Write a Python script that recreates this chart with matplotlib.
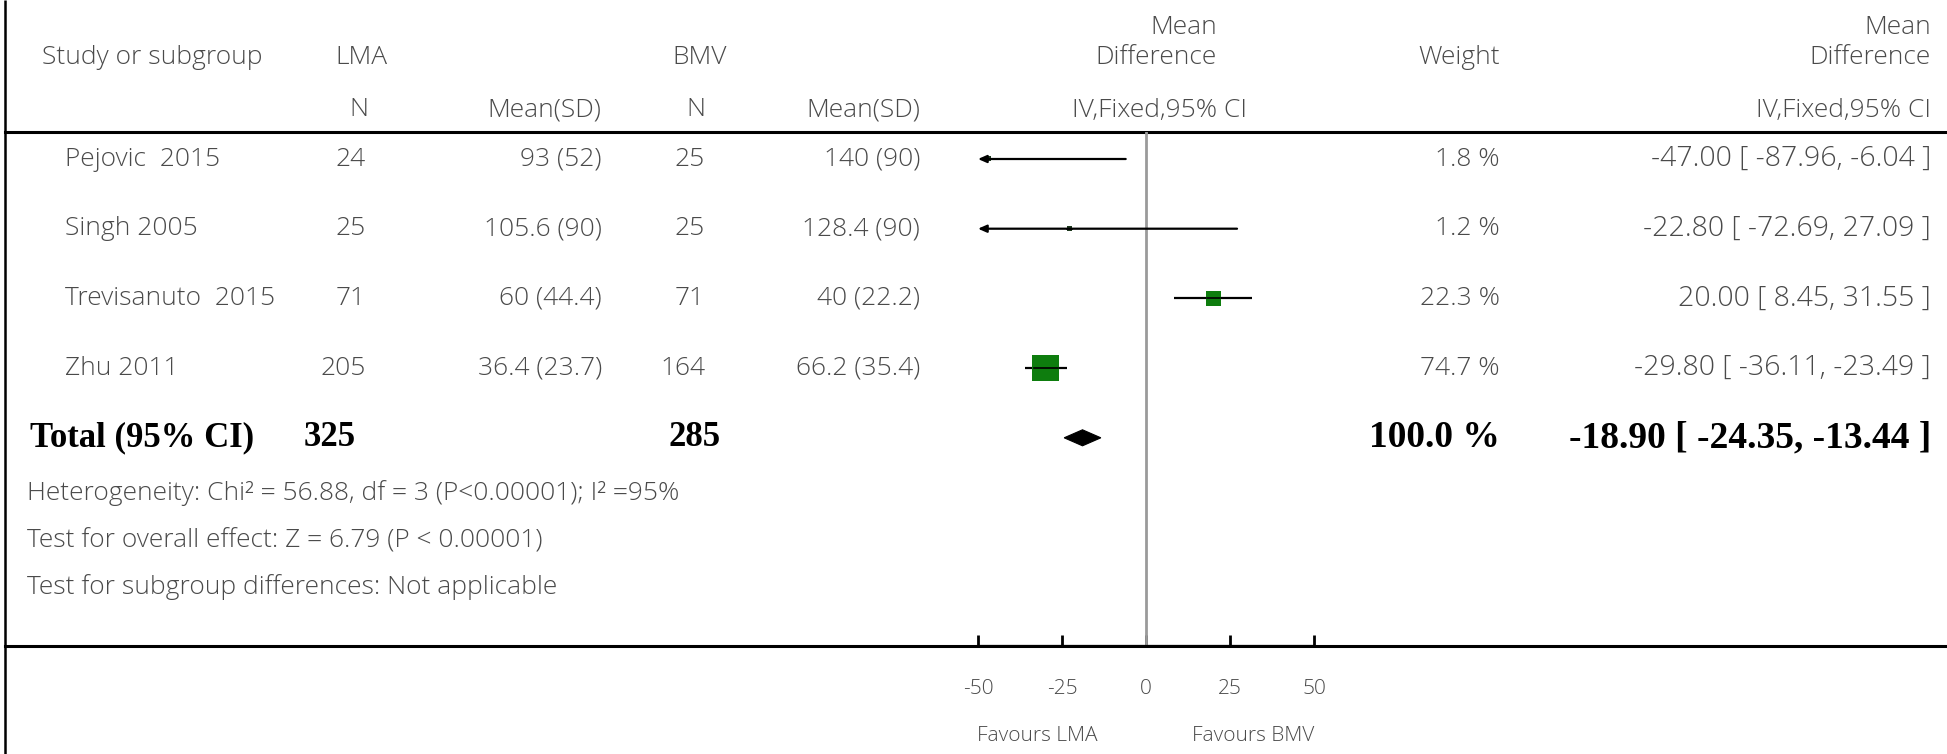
import matplotlib
matplotlib.use("Agg")
import matplotlib.pyplot as plt
from matplotlib.patches import Polygon, Rectangle
import numpy as np

# ---- study data -------------------------------------------------------
studies = ["Pejovic  2015", "Singh 2005", "Trevisanuto  2015", "Zhu 2011"]
lma_n = [24, 25, 71, 205]
lma_mean_sd = ["93 (52)", "105.6 (90)", "60 (44.4)", "36.4 (23.7)"]
bmv_n = [25, 25, 71, 164]
bmv_mean_sd = ["140 (90)", "128.4 (90)", "40 (22.2)", "66.2 (35.4)"]
md = [-47.00, -22.80, 20.00, -29.80]
ci_lo = [-87.96, -72.69, 8.45, -36.11]
ci_hi = [-6.04, 27.09, 31.55, -23.49]
weight = [1.8, 1.2, 22.3, 74.7]

total_lma_n = 325
total_bmv_n = 285
total_md = -18.90
total_lo = -24.35
total_hi = -13.44
total_weight = 100.0

x_ticks = [-50, -25, 0, 25, 50]
x_limits = (-50, 50)
left_label = "Favours LMA"
right_label = "Favours BMV"

heterogeneity = "Heterogeneity: Chi\u00b2 = 56.88, df = 3 (P<0.00001); I\u00b2 =95%"
overall = "Test for overall effect: Z = 6.79 (P < 0.00001)"
subgroup = "Test for subgroup differences: Not applicable"

# ---- layout (pixel units of a 1947 x 754 canvas) ----------------------
W, H = 1947, 754
ROW0, STEP = 159, 69.7
HEAD_LINE, AXIS_LINE = 132, 646
PLOT_L, PLOT_R = 978, 1314

SANS = ["Open Sans", "DejaVu Sans"]
SERIF = ["Liberation Serif", "DejaVu Serif"]
GREY = "#4a4a4a"
FS = 19
FS_CI = 20.5
FS_SMALL = 15
FS_BOLD = 25
FS_BOLD_R = 27


def row_y(i):
    return ROW0 + i * STEP


fig = plt.figure(figsize=(W / 100, H / 100), dpi=100)
bg = fig.add_axes([0, 0, 1, 1])
bg.set_xlim(0, W)
bg.set_ylim(H, 0)
bg.axis("off")


def txt(x, y, s, ha="left", bold=False, size=None):
    if bold:
        bg.text(x, y, s, ha=ha, va="center", fontsize=size or FS_BOLD,
                family=SERIF, fontweight="bold", color="black")
    else:
        bg.text(x, y, s, ha=ha, va="center", fontsize=size or FS,
                family=SANS, fontweight="light", color=GREY)


# frame lines
bg.plot([5, 5], [0, H], color="black", lw=1.8, solid_capstyle="butt")
bg.plot([5, W], [HEAD_LINE, HEAD_LINE], color="black", lw=2.2)
bg.plot([5, W], [AXIS_LINE, AXIS_LINE], color="black", lw=2.2)

# header
txt(42, 58, "Study or subgroup")
txt(335, 58, "LMA")
txt(368, 110, "N", ha="right")
txt(601, 110, "Mean(SD)", ha="right")
txt(672, 58, "BMV")
txt(705, 110, "N", ha="right")
txt(920, 110, "Mean(SD)", ha="right")
txt(1217, 28, "Mean", ha="right")
txt(1217, 58, "Difference", ha="right")
txt(1247, 110, "IV,Fixed,95% CI", ha="right")
txt(1500, 58, "Weight", ha="right")
txt(1931, 28, "Mean", ha="right")
txt(1931, 58, "Difference", ha="right")
txt(1931, 110, "IV,Fixed,95% CI", ha="right")

# study rows
for i, name in enumerate(studies):
    y = row_y(i)
    txt(65, y, name)
    txt(366, y, str(lma_n[i]), ha="right")
    txt(602, y, lma_mean_sd[i], ha="right")
    txt(705, y, str(bmv_n[i]), ha="right")
    txt(920, y, bmv_mean_sd[i], ha="right")
    txt(1500, y, f"{weight[i]:.1f} %", ha="right")
    txt(1931, y, f"{md[i]:.2f} [ {ci_lo[i]:.2f}, {ci_hi[i]:.2f} ]", ha="right",
        size=FS_CI)

# total row
yt = row_y(len(studies))
txt(30, yt, "Total (95% CI)", bold=True)
txt(304, yt, str(total_lma_n), bold=True)
txt(668, yt, str(total_bmv_n), bold=True)
txt(1500, yt, f"{total_weight:.1f} %", ha="right", bold=True, size=FS_BOLD_R)
txt(1931, yt, f"{total_md:.2f} [ {total_lo:.2f}, {total_hi:.2f} ]", ha="right",
    bold=True, size=FS_BOLD_R)

# footnotes
txt(27, 493, heterogeneity)
txt(27, 541, overall)
txt(27, 587, subgroup)

# ---- forest panel ------------------------------------------------------
ax = fig.add_axes([PLOT_L / W, 1 - AXIS_LINE / H,
                   (PLOT_R - PLOT_L) / W, (AXIS_LINE - HEAD_LINE) / H])
ax.set_xlim(*x_limits)
ax.set_ylim((AXIS_LINE - ROW0) / STEP, (HEAD_LINE - ROW0) / STEP)
ax.patch.set_alpha(0)
for side in ["top", "left", "right"]:
    ax.spines[side].set_visible(False)
ax.spines["bottom"].set_linewidth(1.6)
ax.set_yticks([])
ax.set_xticks(x_ticks)
ax.set_xticklabels([str(t) for t in x_ticks], family=SANS, fontweight="light",
                   fontsize=FS_SMALL, color=GREY)
ax.tick_params(axis="x", direction="in", length=8, width=2, pad=24, color="black")

ax.axvline(0, color="#9a9a9a", lw=2)

sq_scale = 3.1  # pixels per sqrt(weight)
min_side = 5.0
px_per_unit = (PLOT_R - PLOT_L) / (x_limits[1] - x_limits[0])
for i in range(len(studies)):
    lo, hi = ci_lo[i], ci_hi[i]
    lo_c = max(lo, x_limits[0])
    hi_c = min(hi, x_limits[1])
    if lo < x_limits[0]:
        ax.annotate("", xy=(x_limits[0], i), xytext=(hi_c, i),
                    arrowprops=dict(arrowstyle="-|>,head_length=0.5,head_width=0.22",
                                    color="black", lw=1.6, shrinkA=0, shrinkB=0))
    else:
        ax.plot([lo_c, hi_c], [i, i], color="black", lw=1.6, solid_capstyle="butt")
    side_px = max(sq_scale * np.sqrt(weight[i]), min_side)
    half_x = side_px / 2 / px_per_unit
    half_y = side_px / 2 / STEP
    color = "#0e7d0e" if weight[i] > 5 else "#1f3a1f"
    ax.add_patch(Rectangle((md[i] - half_x, i - half_y), 2 * half_x, 2 * half_y,
                           facecolor=color, edgecolor="none", zorder=2))
    ax.plot([md[i] - half_x * 0.9, md[i] + half_x * 0.9], [i, i],
            color="black", lw=1.2, zorder=3)

# pooled diamond
dh = 8 / STEP
ti = len(studies)
ax.add_patch(Polygon([(total_lo, ti), (total_md, ti - dh), (total_hi, ti), (total_md, ti + dh)],
                     closed=True, facecolor="black", edgecolor="black", lw=0.8, zorder=3))

# direction labels
bg.text(1037, 736, left_label, ha="center", va="center", fontsize=FS_SMALL,
        family=SANS, fontweight="light", color=GREY)
bg.text(1253, 736, right_label, ha="center", va="center", fontsize=FS_SMALL,
        family=SANS, fontweight="light", color=GREY)

fig.savefig("out.png", dpi=100)
